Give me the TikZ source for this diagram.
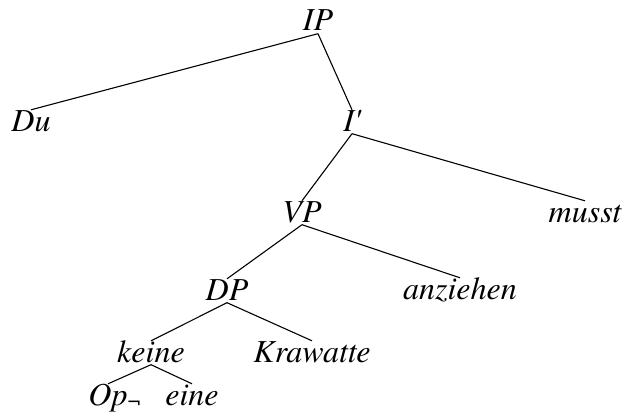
\documentclass[tikz,border=0pt]{standalone}
\usepackage{fontspec}
\setmainfont{texgyretermes}[Extension=.otf,UprightFont=*-regular,ItalicFont=*-italic]
\usepackage{tikz}
\usetikzlibrary{positioning}

\begin{document}
\begin{tikzpicture}[x=1pt,y=-1pt,
	cat/.style={anchor=base,inner sep=0pt,text height=21pt,text depth=2.5pt,
		font=\fontsize{32}{36}\selectfont\itshape},
	br/.style={line width=1.1pt}]
\useasboundingbox (0,0) rectangle (624,412);

\node[cat] (ip) at (318,31) {IP};
\node[cat] (du) at (31,131) {Du};
\node[cat] (ibar) at (352,131) {I\textquotesingle};
\node[cat] (vp) at (302,222) {VP};
\node[cat] (musst) at (585,222) {musst};
\node[cat] (dp) at (227,300) {DP};
\node[cat] (anz) at (460,299) {anziehen};
\node[cat] (keine) at (151,362) {keine};
\node[cat] (kraw) at (312,362) {Krawatte};
\node[cat] (op) at (108,405) {Op\rlap{\raisebox{-4pt}{\fontsize{23}{24}\selectfont\upshape ¬}}};
\node[cat] (eine) at (192,405) {eine};

\draw[br] (ip.south) -- (du.north);
\draw[br] (ip.south) -- (ibar.north);
\draw[br] (ibar.south) -- (vp.north);
\draw[br] (ibar.south) -- (musst.north);
\draw[br] (vp.south) -- (dp.north);
\draw[br] (vp.south) -- (anz.north);
\draw[br] (dp.south) -- (keine.north);
\draw[br] (dp.south) -- (kraw.north);
\draw[br] (keine.south) -- (op.north);
\draw[br] (keine.south) -- (eine.north);

\end{tikzpicture}
\end{document}
